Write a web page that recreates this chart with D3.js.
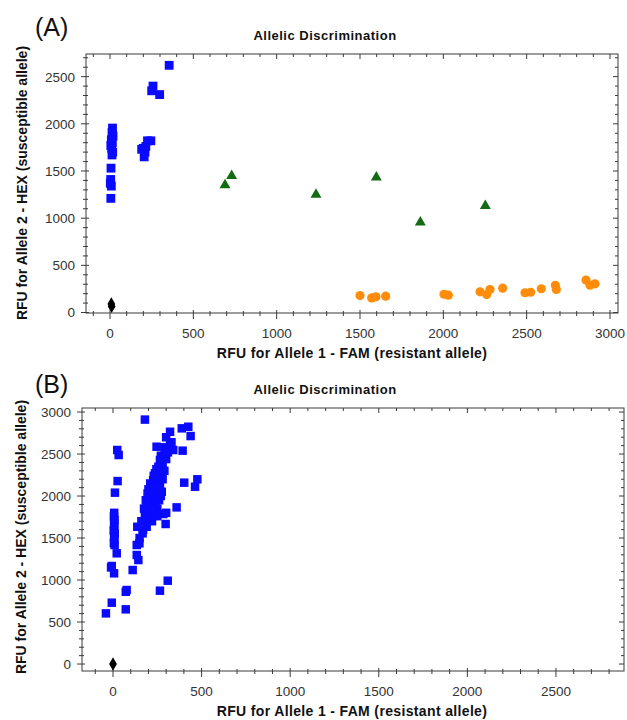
<!DOCTYPE html>
<html>
  <head>
    <meta charset="utf-8">
    <title>Allelic Discrimination</title>
    <script src="https://cdnjs.cloudflare.com/ajax/libs/d3/7.8.5/d3.min.js"></script>
    <style>
      body { margin: 0; background: #fff; }
      text { font-family: Arial, "Liberation Sans", sans-serif; }
    </style>
  </head>
  <body>

    <script>
      // panel A: [FAM, HEX] readings
      var aSusceptible = [
        [355, 2620], [258, 2400], [250, 2350], [298, 2310],
        [15, 1955], [12, 1910], [18, 1870], [8, 1830], [14, 1800], [5, 1770],
        [10, 1740], [16, 1700], [12, 1670], [6, 1530], [4, 1410], [2, 1370],
        [8, 1340], [5, 1210],
        [200, 1740], [225, 1820], [245, 1820], [190, 1730], [210, 1700],
        [205, 1650], [215, 1760]
      ];
      var aHeterozygous = [
        [690, 1350], [730, 1450], [1236, 1250], [1598, 1432], [1862, 955], [2252, 1130]
      ];
      var aResistant = [
        [1500, 180], [1570, 155], [1596, 166], [1654, 173], [2004, 194], [2030, 184],
        [2220, 219], [2260, 190], [2280, 244], [2356, 258], [2490, 210], [2524, 215],
        [2588, 252], [2672, 289], [2678, 244], [2856, 345], [2880, 289], [2910, 304]
      ];
      var aNoTemplate = [[8, 90], [10, 65]];

      // panel B
      var bSusceptible = [
        [24, 2548], [32, 2488], [26, 2178], [11, 2040],
        [7, 1800], [5, 1760], [9, 1714], [6, 1670], [8, 1634], [4, 1590],
        [10, 1556], [6, 1520], [8, 1476], [5, 1440], [9, 1417],
        [21, 1318], [-7, 1167], [-11, 1150], [6, 1080], [-7, 730], [-40, 603],
        [77, 881], [72, 860], [72, 651], [265, 873], [309, 992],
        [111, 1119], [134, 1298], [134, 1417], [143, 1238], [149, 1437],
        [167, 1556], [137, 1634],
        [190, 1714], [199, 1794], [190, 1873], [199, 1952], [209, 2032], [218, 2111],
        [227, 2190], [237, 2270], [256, 2349], [265, 2429], [293, 2488], [322, 2607],
        [246, 2587], [322, 2765], [388, 2806], [425, 2825], [438, 2714], [393, 2540],
        [340, 2548], [402, 2159], [463, 2111], [476, 2199], [359, 1865], [284, 1786],
        [297, 1667], [275, 2051], [227, 1774], [190, 1634], [180, 2910],
        [180, 1760], [205, 1820], [215, 1900], [185, 1950], [230, 1990], [200, 2080],
        [240, 2060], [210, 2150], [250, 2200], [230, 2240], [260, 2290], [245, 2320],
        [280, 2380], [300, 2440], [270, 2480], [310, 2520], [290, 2580], [330, 2640],
        [300, 2700], [220, 1700], [250, 1850], [260, 1950], [270, 2000], [200, 1980],
        [175, 1850], [240, 1920], [280, 2200], [290, 2300], [160, 1700], [170, 1600],
        [150, 1500], [250, 1760], [230, 1800], [300, 1800], [265, 2120],
        [225, 2130], [255, 2250], [235, 2020], [215, 1850], [275, 2420], [195, 2030]
      ];
      var bNoTemplate = [[0, 0]];

      var title = "Allelic Discrimination";
      var xLabel = "RFU for Allele 1 - FAM (resistant allele)";
      var yLabel = "RFU for Allele 2 - HEX (susceptible allele)";

      var colors = { susceptible: "#0a0aff", het: "#136b13", resistant: "#ff8c0a", ntc: "#000" };

      var svg = d3.select("body").append("svg")
        .attr("width", 627)
        .attr("height", 720);

      function panel(opt) {
        var g = svg.append("g");
        var x = d3.scaleLinear().domain(opt.xDomain).range([opt.left, opt.right]);
        var y = d3.scaleLinear().domain(opt.yDomain).range([opt.bottom, opt.top]);

        var xMajor = d3.range(0, opt.xDomain[1], 500);
        var xMinor = d3.range(-100, opt.xDomain[1], 100).filter(function (v){ return v > opt.xDomain[0] && v % 500; });
        var yMajor = d3.range(0, opt.yDomain[1], 500);
        var yMinor = d3.range(-100, opt.yDomain[1], 100).filter(function (v){ return v > opt.yDomain[0] && v % 500; });

        var ax = g.append("g").attr("stroke", "#3a3a3a").attr("stroke-width", 1);

        // bottom ticks (cross the axis)
        ax.selectAll(".xb").data(xMajor.concat(xMinor)).enter().append("line")
          .attr("x1", function (d){ return x(d); }).attr("x2", function (d){ return x(d); })
          .attr("y1", function (d){ return opt.bottom - (d % 500 ? 2 : 3); })
          .attr("y2", function (d){ return opt.bottom + (d % 500 ? 3 : 6); });
        // top ticks (inward)
        ax.selectAll(".xt").data(xMajor.concat(xMinor)).enter().append("line")
          .attr("x1", function (d){ return x(d); }).attr("x2", function (d){ return x(d); })
          .attr("y1", opt.top)
          .attr("y2", function (d){ return opt.top + (d % 500 ? 3 : 5); });
        // left ticks
        ax.selectAll(".yl").data(yMajor.concat(yMinor)).enter().append("line")
          .attr("y1", function (d){ return y(d); }).attr("y2", function (d){ return y(d); })
          .attr("x1", function (d){ return opt.left - (d % 500 ? 3 : 5); })
          .attr("x2", function (d){ return opt.left + (d % 500 ? 2 : 3); });
        // right ticks (inward)
        ax.selectAll(".yr").data(yMajor.concat(yMinor)).enter().append("line")
          .attr("y1", function (d){ return y(d); }).attr("y2", function (d){ return y(d); })
          .attr("x1", function (d){ return opt.right - (d % 500 ? 3 : 5); })
          .attr("x2", opt.right);

        g.append("rect")
          .attr("x", opt.left).attr("y", opt.top)
          .attr("width", opt.right - opt.left).attr("height", opt.bottom - opt.top)
          .attr("fill", "none").attr("stroke", "#3a3a3a").attr("stroke-width", 1);

        // tick labels
        g.selectAll(".xl").data(xMajor).enter().append("text")
          .attr("x", function (d){ return x(d); })
          .attr("y", opt.bottom + 25)
          .attr("text-anchor", "middle")
          .attr("font-size", 13.5).attr("fill", "#333")
          .text(function (d){ return d; });
        g.selectAll(".yl").data(yMajor).enter().append("text")
          .attr("x", opt.left - 11)
          .attr("y", function (d){ return y(d); })
          .attr("dy", "0.36em")
          .attr("text-anchor", "end")
          .attr("font-size", 13.5).attr("fill", "#333")
          .text(function (d){ return d; });

        g.append("text")
          .attr("x", 35).attr("y", opt.tagY)
          .attr("font-size", 25).attr("fill", "#111")
          .text(opt.tag);
        g.append("text")
          .attr("x", 325).attr("y", opt.top - 14)
          .attr("text-anchor", "middle")
          .attr("font-size", 13).attr("letter-spacing", 0.5)
          .attr("font-weight", "bold").attr("fill", "#111")
          .text(title);
        g.append("text")
          .attr("x", 352).attr("y", opt.bottom + 45)
          .attr("text-anchor", "middle")
          .attr("font-size", 14).attr("letter-spacing", 0.35)
          .attr("font-weight", "bold").attr("fill", "#111")
          .text(xLabel);
        g.append("text")
          .attr("transform", "translate(" + opt.yTitleX + "," + opt.yTitleY + ") rotate(-90)")
          .attr("text-anchor", "middle")
          .attr("font-size", 14)
          .attr("font-weight", "bold").attr("fill", "#111")
          .text(yLabel);

        var marks = g.append("g");
        opt.series.forEach(function (s){
          marks.selectAll(null).data(s.data).enter().append("path")
            .attr("transform", function (d){ return "translate(" + x(d[0]) + "," + y(d[1]) + ")"; })
            .attr("d", d3.symbol().type(s.type).size(s.size))
            .attr("fill", s.color);
        });
      }

      panel({
        tag: "(A)", tagY: 36,
        left: 86, right: 618, top: 54, bottom: 313,
        yTitleX: 27, yTitleY: 183,
        xDomain: [-144, 3048], yDomain: [-5, 2740],
        series: [
          { data: aResistant, type: d3.symbolCircle, size: 66, color: colors.resistant },
          { data: aHeterozygous, type: d3.symbolTriangle, size: 52, color: colors.het },
          { data: aSusceptible, type: d3.symbolSquare, size: 78, color: colors.susceptible },
          { data: aNoTemplate, type: d3.symbolDiamond, size: 52, color: colors.ntc }
        ]
      });

      panel({
        tag: "(B)", tagY: 393,
        left: 82, right: 624, top: 408, bottom: 671,
        yTitleX: 26, yTitleY: 537,
        xDomain: [-175, 2884], yDomain: [-83, 3048],
        series: [
          { data: bSusceptible, type: d3.symbolSquare, size: 72, color: colors.susceptible },
          { data: bNoTemplate, type: d3.symbolDiamond, size: 52, color: colors.ntc }
        ]
      });
    </script>

  </body>
</html>
